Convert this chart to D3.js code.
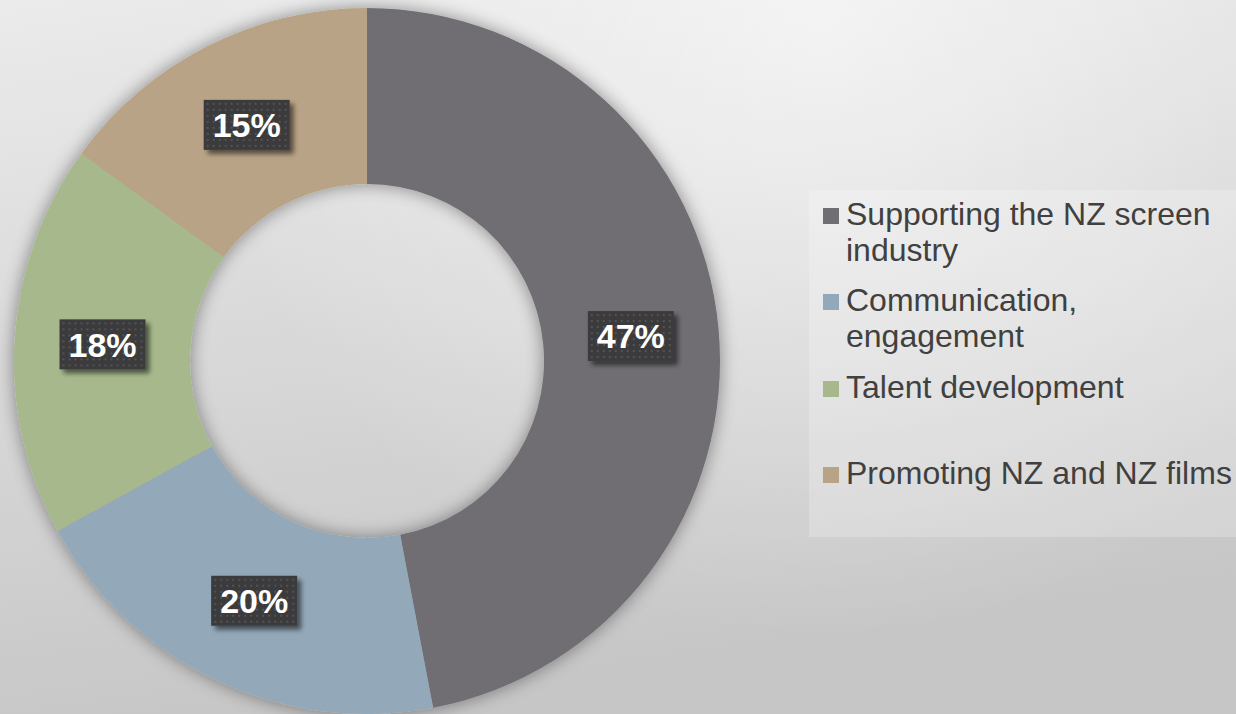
<!DOCTYPE html>
<html>
<head>
<meta charset="utf-8">
<script src="https://cdn.jsdelivr.net/npm/d3@7/dist/d3.min.js"></script>
<style>
  html, body { margin: 0; padding: 0; overflow: hidden; }
  svg { display: block; }
</style>
</head>
<body>
<script>
// Spending breakdown by activity
const categories = [
  "Supporting the NZ screen industry",
  "Communication, engagement",
  "Talent development",
  "Promoting NZ and NZ films"
];
const values = [47, 20, 18, 15];
const valueLabels = ["47%", "20%", "18%", "15%"];
// legend text broken into display lines
const legendLines = [
  ["Supporting the NZ screen", "industry"],
  ["Communication,", "engagement"],
  ["Talent development"],
  ["Promoting NZ and NZ films"]
];
const colors = ["#6f6e73", "#93a9b9", "#a7b98c", "#b9a386"];

const W = 1236, H = 714;
const cx = 367, cy = 361, rOuter = 353, rInner = 177;

const svg = d3.select("body").append("svg")
  .attr("width", W).attr("height", H);

const defs = svg.append("defs");

// background: vertical fade plus a bright patch at the top right
const bgLin = defs.append("linearGradient").attr("id", "bgLin")
  .attr("x1", 0).attr("y1", 0).attr("x2", 0.25).attr("y2", 1);
bgLin.append("stop").attr("offset", 0).attr("stop-color", "#ebebeb");
bgLin.append("stop").attr("offset", 1).attr("stop-color", "#c6c6c6");

const bgHi = defs.append("radialGradient").attr("id", "bgHi")
  .attr("gradientUnits", "userSpaceOnUse")
  .attr("cx", 820).attr("cy", 20).attr("r", 620);
bgHi.append("stop").attr("offset", 0).attr("stop-color", "#ffffff").attr("stop-opacity", 0.55);
bgHi.append("stop").attr("offset", 1).attr("stop-color", "#ffffff").attr("stop-opacity", 0);

// soft halo round the ring
const halo = defs.append("filter").attr("id", "halo")
  .attr("x", "-20%").attr("y", "-20%").attr("width", "140%").attr("height", "140%");
halo.append("feGaussianBlur").attr("in", "SourceAlpha").attr("stdDeviation", 9).attr("result", "b");
halo.append("feComponentTransfer").attr("in", "b").attr("result", "s")
  .append("feFuncA").attr("type", "linear").attr("slope", 0.42);
const hm = halo.append("feMerge");
hm.append("feMergeNode").attr("in", "s");
hm.append("feMergeNode").attr("in", "SourceGraphic");

// drop shadow for value boxes
const ds = defs.append("filter").attr("id", "boxShadow")
  .attr("x", "-20%").attr("y", "-20%").attr("width", "150%").attr("height", "160%");
ds.append("feGaussianBlur").attr("in", "SourceAlpha").attr("stdDeviation", 2.5).attr("result", "b");
ds.append("feOffset").attr("in", "b").attr("dx", 4).attr("dy", 4).attr("result", "o");
ds.append("feComponentTransfer").attr("in", "o").attr("result", "s")
  .append("feFuncA").attr("type", "linear").attr("slope", 0.55);
const dm = ds.append("feMerge");
dm.append("feMergeNode").attr("in", "s");
dm.append("feMergeNode").attr("in", "SourceGraphic");

// dotted fill for value boxes
const pat = defs.append("pattern").attr("id", "dots")
  .attr("patternUnits", "userSpaceOnUse").attr("width", 6).attr("height", 6);
pat.append("rect").attr("width", 6).attr("height", 6).attr("fill", "#3b3b3c");
pat.append("rect").attr("x", 2).attr("y", 2).attr("width", 2).attr("height", 2).attr("fill", "#525253");

svg.append("rect").attr("width", W).attr("height", H).attr("fill", "url(#bgLin)");
svg.append("rect").attr("width", W).attr("height", H).attr("fill", "url(#bgHi)");

// legend panel
svg.append("rect")
  .attr("x", 809).attr("y", 190).attr("width", W - 809).attr("height", 347)
  .attr("fill", "#ffffff").attr("fill-opacity", 0.22);

const pie = d3.pie().sort(null).value(d => d);
const arc = d3.arc().innerRadius(rInner).outerRadius(rOuter);
const labelArc = d3.arc().innerRadius((rInner + rOuter) / 2).outerRadius((rInner + rOuter) / 2);
const arcs = pie(values);

const ring = svg.append("g")
  .attr("transform", `translate(${cx},${cy})`)
  .attr("filter", "url(#halo)");
ring.selectAll("path").data(arcs).enter().append("path")
  .attr("d", arc)
  .attr("fill", (d, i) => colors[i]);

// value labels
const lg = svg.append("g").attr("transform", `translate(${cx},${cy})`);
const boxW = 86, boxH = 50;
const lab = lg.selectAll("g.lab").data(arcs).enter().append("g")
  .attr("class", "lab")
  .attr("transform", d => {
    const [x, y] = labelArc.centroid(d);
    return `translate(${x},${y})`;
  });
lab.append("rect")
  .attr("x", -boxW / 2).attr("y", -boxH / 2)
  .attr("width", boxW).attr("height", boxH)
  .attr("fill", "url(#dots)")
  .attr("filter", "url(#boxShadow)");
lab.append("text")
  .attr("text-anchor", "middle")
  .attr("dy", "0.36em")
  .attr("fill", "#ffffff")
  .style("font-family", "Arial, 'Liberation Sans', sans-serif")
  .style("font-weight", "bold")
  .style("font-size", "34px")
  .text((d, i) => valueLabels[i]);

// legend
const legendY = [225, 311, 398, 484];
const lgd = svg.append("g");
categories.forEach((c, i) => {
  const g = lgd.append("g").attr("transform", `translate(823,${legendY[i]})`);
  g.append("rect").attr("x", 0).attr("y", -17).attr("width", 16).attr("height", 16)
    .attr("fill", colors[i]);
  const t = g.append("text")
    .attr("x", 23).attr("y", 0)
    .attr("fill", "#404040")
    .style("font-family", "Arial, 'Liberation Sans', sans-serif")
    .style("font-size", "32px");
  legendLines[i].forEach((line, j) => {
    t.append("tspan").attr("x", 23).attr("dy", j === 0 ? 0 : 36).text(line);
  });
});
</script>
</body>
</html>
